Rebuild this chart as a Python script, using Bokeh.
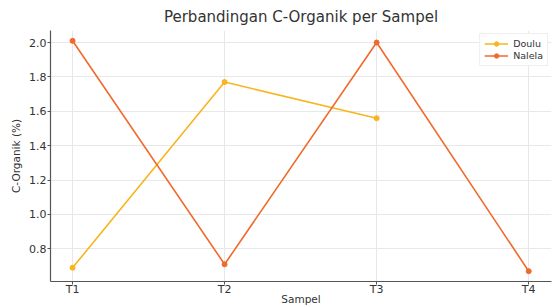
from bokeh.plotting import figure
from bokeh.models import FixedTicker, Range1d, Legend, LegendItem, PrintfTickFormatter
from bokeh.embed import file_html
from bokeh.resources import INLINE

samples = ["T1", "T2", "T3", "T4"]
doulu = [0.69, 1.77, 1.56]
nalela = [2.01, 0.71, 2.00, 0.67]
doulu_color = "#F7B51E"
nalela_color = "#F06A2B"

xs_d = list(range(len(doulu)))
xs_n = list(range(len(nalela)))

p = figure(width=554, height=307, output_backend="svg", toolbar_location=None,
           x_range=Range1d(-0.145, 3.15), y_range=Range1d(0.61, 2.07),
           title="Perbandingan C-Organik per Sampel",
           min_border_left=50, min_border_right=3, min_border_top=30, min_border_bottom=20)
p.title.align = "center"
p.title.text_font = "DejaVu Sans"
p.title.text_font_size = "15px"
p.title.text_font_style = "normal"
p.title.text_color = "#333333"

p.xaxis.ticker = FixedTicker(ticks=xs_n)
p.xaxis.major_label_overrides = {i: s for i, s in enumerate(samples)}
p.yaxis.ticker = FixedTicker(ticks=[0.8, 1.0, 1.2, 1.4, 1.6, 1.8, 2.0])
p.yaxis.formatter = PrintfTickFormatter(format="%.1f")

for ax in (p.xaxis, p.yaxis):
    ax.major_label_text_font = "DejaVu Sans"
    ax.major_label_text_font_size = "11px"
    ax.major_label_text_color = "#333333"
    ax.major_label_standoff = 1
    ax.axis_label_text_font = "DejaVu Sans"
    ax.axis_label_text_font_size = "10.5px"
    ax.axis_label_text_font_style = "normal"
    ax.axis_label_text_color = "#333333"
    ax.axis_line_color = "#555555"
    ax.axis_line_width = 1.2
    ax.major_tick_line_color = "#555555"
    ax.major_tick_out = 3
    ax.major_tick_in = 0
    ax.minor_tick_line_color = None
p.xaxis.major_label_standoff = -2
p.xaxis.axis_label = "Sampel"
p.yaxis.axis_label = "C-Organik (%)"
p.xaxis.axis_label_standoff = -6
p.yaxis.axis_label_standoff = 4

p.xgrid.grid_line_color = "#e8e8e8"
p.ygrid.grid_line_color = "#e8e8e8"
p.outline_line_color = None

l1 = p.line(xs_d, doulu, line_color=doulu_color, line_width=1.6)
c1 = p.scatter(xs_d, doulu, size=5, fill_color=doulu_color, line_color=doulu_color)
l2 = p.line(xs_n, nalela, line_color=nalela_color, line_width=1.6)
c2 = p.scatter(xs_n, nalela, size=5, fill_color=nalela_color, line_color=nalela_color)

legend = Legend(items=[LegendItem(label="Doulu", renderers=[l1, c1]),
                       LegendItem(label="Nalela", renderers=[l2, c2])],
                location="top_right")
legend.label_text_font = "DejaVu Sans"
legend.label_text_font_size = "9.5px"
legend.label_text_color = "#333333"
legend.glyph_height = 11
legend.glyph_width = 24
legend.label_height = 11
legend.spacing = 1
legend.padding = 4
legend.margin = 3
legend.border_line_color = "#dddddd"
p.add_layout(legend)

open("out.html", "w").write(file_html(p, INLINE))
